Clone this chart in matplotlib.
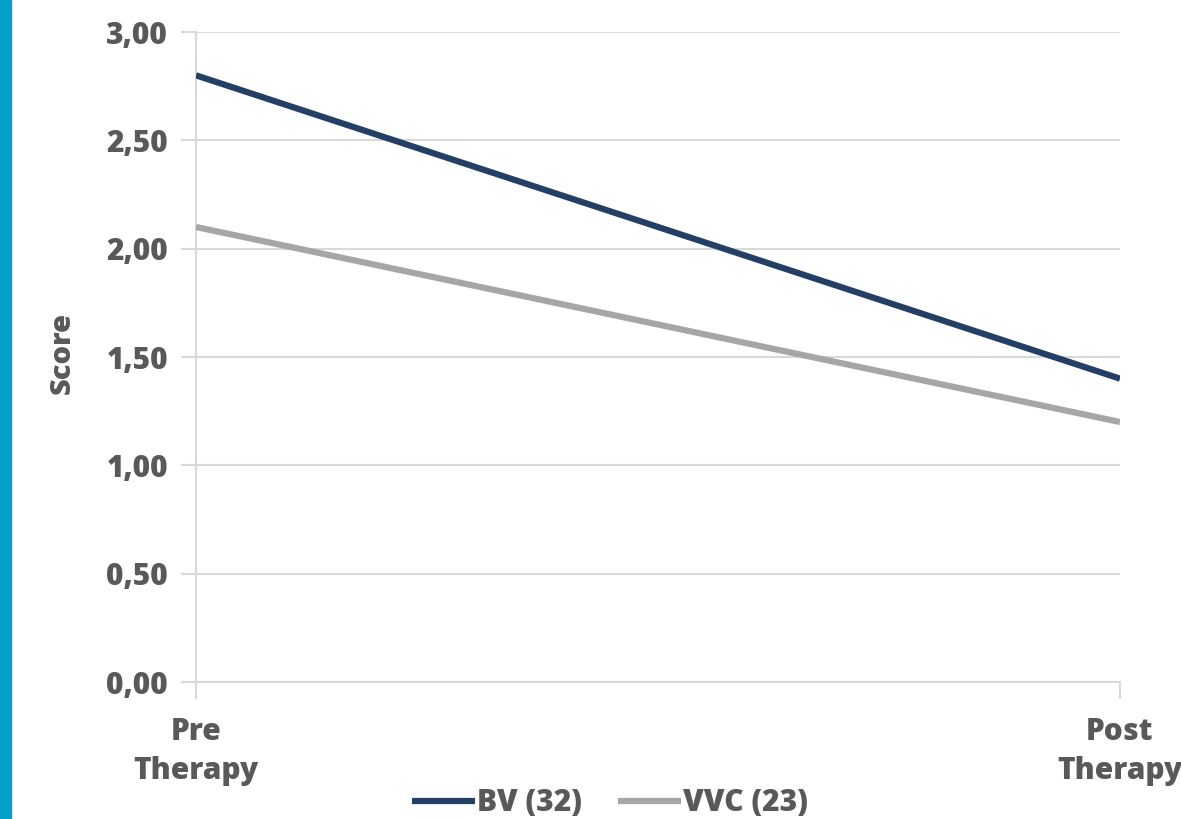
import matplotlib.pyplot as plt
from matplotlib.ticker import FuncFormatter

categories = ["Pre\nTherapy", "Post\nTherapy"]
bv = [2.80, 1.40]
vvc = [2.10, 1.20]
series_names = ["BV (32)", "VVC (23)"]

plt.rcParams['font.family'] = ['Open Sans', 'DejaVu Sans']
txt = "#595959"
grid = "#d9d9d9"
W = 800

fig = plt.figure(figsize=(11.81, 8.19), dpi=100)
ax = fig.add_axes([196 / 1181, 1 - 682 / 819, (1120 - 196) / 1181, (682 - 32) / 819])

x = range(len(categories))
ax.plot(x, bv, color="#243f66", lw=4.5, label=series_names[0], solid_capstyle="butt", zorder=3)
ax.plot(x, vvc, color="#a6a6a6", lw=4.5, label=series_names[1], solid_capstyle="butt", zorder=3)

ax.set_xlim(0, 1)
ax.set_ylim(0, 3)
ax.set_yticks([0, 0.5, 1, 1.5, 2, 2.5, 3])
ax.yaxis.set_major_formatter(FuncFormatter(lambda v, p: f"{v:.2f}".replace(".", ",")))
ax.set_xticks(list(x))
ax.set_xticklabels(categories, fontsize=21.5, color=txt, fontweight=W, linespacing=1.4)
for t in ax.get_yticklabels():
    t.set_fontweight(W)
ax.tick_params(axis="y", labelsize=21.5, labelcolor=txt, color=grid, length=11, width=1.5, pad=9)
ax.tick_params(axis="x", color=grid, length=12, width=1.5, pad=13)
ax.grid(axis="y", color=grid, lw=1.5)
for s in ["top", "right"]:
    ax.spines[s].set_visible(False)
ax.spines["left"].set_color(grid)
ax.spines["left"].set_linewidth(1.5)
ax.spines["bottom"].set_color(grid)
ax.spines["bottom"].set_linewidth(1.5)
ax.set_ylabel("Score", fontsize=21, color=txt, fontweight=W)
ax.yaxis.set_label_coords(-0.129, 0.506)

leg = fig.legend(loc="center", bbox_to_anchor=(610 / 1181, 1 - 803 / 819), ncol=2, frameon=False,
                 fontsize=21.5, handlelength=2.1, handletextpad=0.08, columnspacing=1.2)
for t in leg.get_texts():
    t.set_color(txt)
    t.set_fontweight(W)

fig.patches.append(plt.Rectangle((0, 0), 11 / 1181, 1, transform=fig.transFigure,
                                 color="#00a0c8", zorder=0))

fig.savefig("out.png", dpi=100)
